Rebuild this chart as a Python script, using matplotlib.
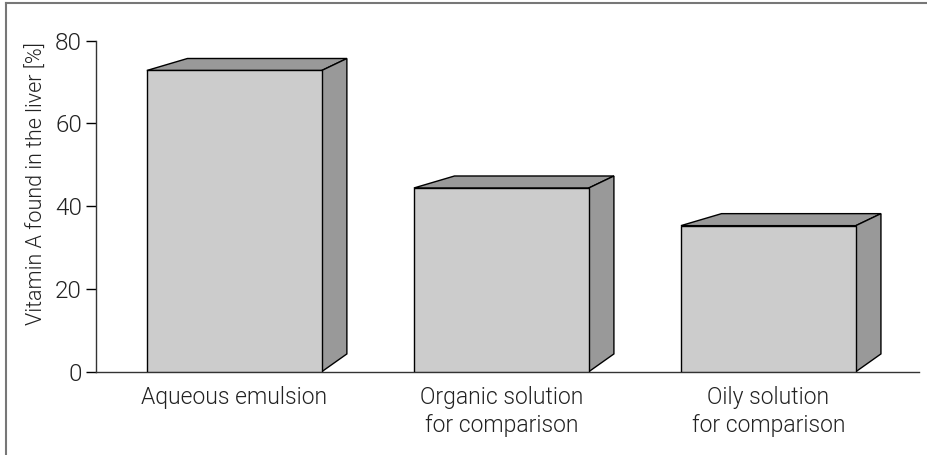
import matplotlib
matplotlib.use("Agg")
import matplotlib.pyplot as plt
from matplotlib.patches import Polygon

categories = ["Aqueous emulsion", "Organic solution\nfor comparison", "Oily solution\nfor comparison"]
values = [72.8, 44.4, 35.3]
yticks = [0, 20, 40, 60, 80]
ylabel = "Vitamin A found in the liver [%]"

plt.rcParams['font.family'] = ['Roboto', 'DejaVu Sans']
plt.rcParams['font.weight'] = 300

W, H = 927, 455
fig = plt.figure(figsize=(W / 100, H / 100), dpi=100)

x0, x1 = 96, 919
y0, y1 = 371.7, 40.7
ax = fig.add_axes([x0 / W, (H - y0) / H, (x1 - x0) / W, (y0 - y1) / H])

front = '#cccccc'
dark = '#999999'
width = 0.655
xs = list(range(len(values)))
ax.bar(xs, values, width=width, color=front, edgecolor='black', linewidth=1.0, zorder=3)

dxl, dxr, dyt, dyb = 0.152, 0.094, 2.9, 4.3
for x, v in zip(xs, values):
    l, r = x - width / 2, x + width / 2
    top = Polygon([(l, v), (l + dxl, v + dyt), (r + dxr, v + dyt), (r, v)],
                  closed=True, facecolor=dark, edgecolor='black', linewidth=1.0, zorder=2)
    side = Polygon([(r, v), (r + dxr, v + dyt), (r + dxr, dyb), (r, 0)],
                   closed=True, facecolor=dark, edgecolor='black', linewidth=1.0, zorder=2)
    ax.add_patch(top)
    ax.add_patch(side)

ax.set_xlim(-0.518, 2.564)
ax.set_ylim(0, 80)
ax.set_yticks(yticks)
ax.set_yticklabels([str(t) for t in yticks], fontsize=17.5, color='#222222')
ax.set_xticks(xs)
ax.set_xticklabels(categories, fontsize=16.5, color='#222222', linespacing=1.3)
ax.tick_params(axis='x', length=0, pad=10)
ax.tick_params(axis='y', length=7, width=1, pad=3, direction='out')
for s in ['top', 'right']:
    ax.spines[s].set_visible(False)
ax.spines['left'].set_linewidth(1)
ax.spines['bottom'].set_linewidth(1)
ax.spines['left'].set_color('#333333')
ax.spines['bottom'].set_color('#333333')

fig.text(37 / W, 1 - 184 / H, ylabel, rotation=90, ha='center', va='center',
         fontsize=15.5, color='#222222')

# figure frame lines (top and left)
fig.add_artist(plt.Line2D([6 / W, 6 / W], [0, 1 - 2.5 / H], color='#777777', linewidth=1.5))
fig.add_artist(plt.Line2D([6 / W, 1], [1 - 2.5 / H, 1 - 2.5 / H], color='#777777', linewidth=1.5))

fig.savefig("out.png", dpi=100)
